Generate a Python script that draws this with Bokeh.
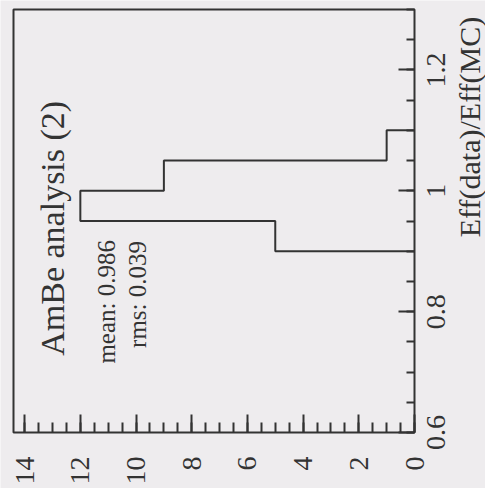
import math
from bokeh.plotting import figure
from bokeh.models import Range1d, FixedTicker, Label
from bokeh.core.properties import value
from bokeh.embed import file_html
from bokeh.resources import INLINE

# ---- data ----
bin_edges = [0.90, 0.95, 1.00, 1.05, 1.10]
counts = [5, 12, 9, 1]
count_ticks = [0, 2, 4, 6, 8, 10, 12, 14]
count_tick_labels = ["0", "2", "4", "6", "8", "10", "12", "14"]
eff_ticks = [0.6, 0.8, 1.0, 1.2]
eff_tick_labels = ["0.6", "0.8", "1", "1.2"]
title_text = "AmBe analysis (2)"
stat_texts = ["mean: 0.986", "rms: 0.039"]
axis_title = "Eff(data)/Eff(MC)"

# axis limits of the plot box
CNT_MAX, CNT_MIN = 14.4, 0.0
EFF_MIN, EFF_MAX = 0.6, 1.3

BG = "#eeecee"
INK = "#333333"
FONT = "Liberation Serif"

# ---- layout (pixels inside the canvas) ----
W, H = 485, 488
BOX_L, BOX_R, BOX_T, BOX_B = 13, 414, 9, 432
cnt_per_px = (CNT_MAX - CNT_MIN) / (BOX_R - BOX_L)
eff_per_px = (EFF_MAX - EFF_MIN) / (BOX_B - BOX_T)
x_rng = Range1d(CNT_MAX + BOX_L * cnt_per_px, CNT_MIN - (W - BOX_R) * cnt_per_px)
y_rng = Range1d(EFF_MIN - (H - BOX_B) * eff_per_px, EFF_MAX + BOX_T * eff_per_px)

p = figure(width=W, height=H, x_range=x_rng, y_range=y_rng,
           x_axis_location="below", y_axis_location="right",
           output_backend="svg", toolbar_location=None,
           background_fill_color=BG, border_fill_color=BG, min_border=0)
p.title.visible = False
p.xgrid.visible = False
p.ygrid.visible = False
p.outline_line_color = None

# count axis, sitting on the bottom edge of the box
xa = p.xaxis[0]
xa.fixed_location = EFF_MIN
xa.bounds = (CNT_MIN, CNT_MAX)
xa.ticker = FixedTicker(ticks=count_ticks,
                        minor_ticks=[0.5 * i for i in range(0, 29)])
xa.major_tick_in = 18
xa.minor_tick_in = 10

# efficiency axis, sitting on the right edge of the box
ya = p.yaxis[0]
ya.fixed_location = CNT_MIN
ya.bounds = (EFF_MIN, EFF_MAX)
ya.ticker = FixedTicker(ticks=eff_ticks,
                        minor_ticks=[round(0.6 + 0.05 * i, 2) for i in range(0, 15)])
ya.major_tick_in = 16
ya.minor_tick_in = 8

for ax in (xa, ya):
    ax.major_tick_out = 0
    ax.minor_tick_out = 0
    ax.axis_line_color = None
    ax.major_tick_line_color = INK
    ax.major_tick_line_width = 2
    ax.minor_tick_line_color = INK
    ax.minor_tick_line_width = 2
    ax.major_label_text_alpha = 0
    ax.major_label_standoff = 0

# plot box
p.quad(left=[CNT_MAX], right=[CNT_MIN], bottom=[EFF_MIN], top=[EFF_MAX],
       fill_color=None, line_color=INK, line_width=2)

# tick labels, rotated like the whole page (reading bottom-to-top)
p.text(x=count_ticks, y=[EFF_MIN - 24 * eff_per_px] * len(count_ticks),
       text=count_tick_labels, angle=math.pi / 2,
       text_align="right", text_baseline="middle",
       text_font=value(FONT), text_font_size=value("28px"), text_color=INK)
p.text(x=[CNT_MIN - 21 * cnt_per_px] * len(eff_ticks), y=eff_ticks,
       text=eff_tick_labels, angle=math.pi / 2,
       text_align="center", text_baseline="middle",
       text_font=value(FONT), text_font_size=value("28px"), text_color=INK)

# axis title
p.add_layout(Label(x=CNT_MIN - 55 * cnt_per_px,
                   y=EFF_MAX - (126.5 - BOX_T) * eff_per_px,
                   text=axis_title, angle=math.pi / 2,
                   text_font=FONT, text_font_size="30px", text_color=INK,
                   text_align="center", text_baseline="middle"))

# histogram outline (rotated: counts horizontally, efficiency vertically)
xs, ys = [0], [bin_edges[0]]
for i, c in enumerate(counts):
    xs += [c, c]
    ys += [bin_edges[i], bin_edges[i + 1]]
xs.append(0)
ys.append(bin_edges[-1])
p.line(xs, ys, line_color=INK, line_width=2)

# texts inside the box
p.add_layout(Label(x=13.0, y=0.727, text=title_text, angle=math.pi / 2,
                   text_font=FONT, text_font_size="34px", text_color=INK,
                   text_align="left", text_baseline="middle"))
p.add_layout(Label(x=11.06, y=0.714, text=stat_texts[0], angle=math.pi / 2,
                   text_font=FONT, text_font_size="25px", text_color=INK,
                   text_align="left", text_baseline="middle"))
p.add_layout(Label(x=9.95, y=0.740, text=stat_texts[1], angle=math.pi / 2,
                   text_font=FONT, text_font_size="25px", text_color=INK,
                   text_align="left", text_baseline="middle"))

html = file_html(p, INLINE)
html = html.replace("<body>", '<body style="background-color:#eeecee;">', 1)
open("out.html", "w").write(html)
